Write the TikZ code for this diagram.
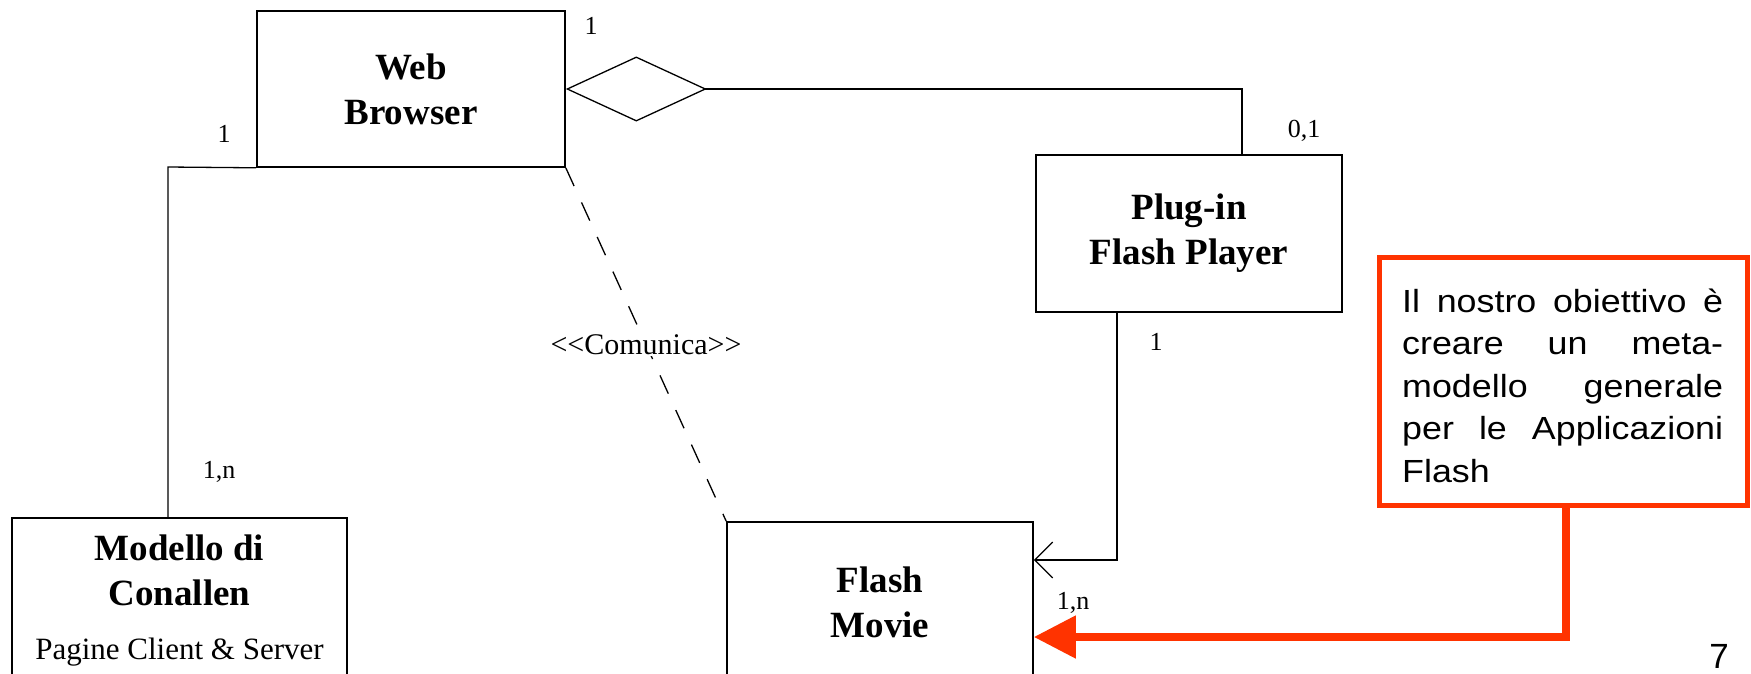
\documentclass[tikz,border=0pt]{standalone}
\usepackage{fontspec}
\setmainfont{Liberation Serif}
\newfontfamily\arialf{Liberation Sans}
\newfontfamily\arialw{Liberation Sans}[FakeStretch=1.12]
\usetikzlibrary{arrows.meta}
\definecolor{noteRed}{RGB}{255,51,0}
\begin{document}
\begin{tikzpicture}[x=1pt,y=-1pt,
  classbox/.style={draw=black, line width=1.6pt, align=center, inner sep=0pt,
    font=\fontsize{37}{45}\selectfont\bfseries},
  conn/.style={draw=black, line width=1.3pt},
  dashconn/.style={draw=black, line width=1.3pt, dash pattern=on 20pt off 18pt},
  mult/.style={inner sep=0pt, font=\fontsize{26}{30}\selectfont},
  stereo/.style={inner sep=1pt, fill=white, font=\fontsize{30}{34}\selectfont},
  notebox/.style={draw=noteRed, line width=5pt, inner sep=0pt},
  redarrow/.style={draw=noteRed, line width=8pt, -{Triangle[length=42pt,width=41pt]}},
  barb/.style={conn, -{Straight Barb[length=18pt,width=36pt]}},
  aggr/.style={conn, {Diamond[open,length=141pt,width=65pt]}-}
]
\fill[white] (0,0) rectangle (1751,673);
\path[use as bounding box] (0,0) rectangle (1751,673);
\begin{scope}
\clip (0,0) rectangle (1751,673);

% classes
\node[classbox, minimum width=308pt, minimum height=156pt] (wb) at (411,89) {Web\\Browser};
\node[classbox, minimum width=306pt, minimum height=157pt] (pf) at (1189,233.5) {Plug-in\\Flash Player};
\node[classbox, minimum width=306pt, minimum height=161pt] (fm) at (880,602.5) {Flash\\Movie};
\node[classbox, minimum width=335pt, minimum height=164pt] (mc) at (179.5,600)
  {Modello di\\Conallen\\[9pt]{\mdseries\fontsize{31}{36}\selectfont Pagine Client \& Server}};

% turning points
\coordinate (lturn) at (168,167);
\coordinate (rturn) at (1242,89);
\coordinate (pturn) at (1117,560);
\coordinate (redturn) at (1566,637);

% connectors
\draw[conn] (wb.south west) -- (lturn) -- (mc.north -| lturn);
\draw[aggr] (wb.east) -- (rturn) -- (pf.north -| rturn);
\draw[barb] (pf.south -| pturn) -- (pturn) -- (fm.east |- pturn);
\draw[dashconn] (wb.south east) -- (fm.north west)
  node[stereo, pos=0.5] (com) {<\kern0pt<Comunica>\kern0pt>};

% multiplicities
\node[mult] (m1) at (591,26) {1};
\node[mult] (m2) at (224,134) {1};
\node[mult] (m3) at (1304,131) {0,1};
\node[mult] (m4) at (1156,342) {1};
\node[mult] (m5) at (219,472) {1,n};
\node[mult] (m6) at (1073,603) {1,n};

% note
\node[notebox, minimum width=368pt, minimum height=248pt] (note) at (1563,381) {};
\node[inner sep=0pt, anchor=base west] (notetext) at (1402,312)
  {\parbox[t]{321pt}{\arialw\fontsize{32}{42.5}\selectfont
   \makebox[321pt][s]{Il nostro obiettivo è}\\
   \makebox[321pt][s]{creare un meta-}\\
   \makebox[321pt][s]{modello generale}\\
   \makebox[321pt][s]{per le Applicazioni}\\
   Flash}};
\draw[redarrow] (note.south -| redturn) -- (redturn) -- (fm.east |- redturn);

% page number
\node[inner sep=0pt, font=\arialf\fontsize{35}{40}\selectfont] (pg) at (1719,656) {7};
\end{scope}
\end{tikzpicture}
\end{document}
